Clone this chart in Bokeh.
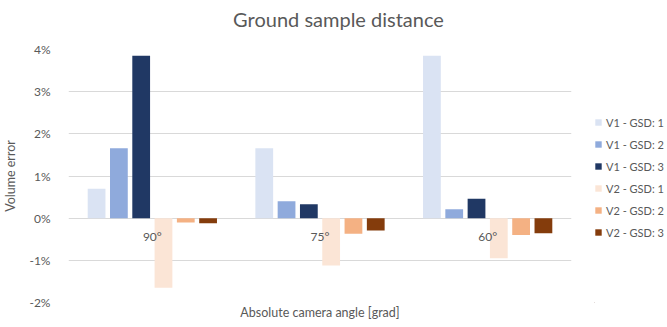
from bokeh.plotting import figure
from bokeh.models import Range1d, FixedTicker, PrintfTickFormatter, Legend, LegendItem, ColumnDataSource, LinearAxis
from bokeh.layouts import row, column
from bokeh.core.properties import value
from bokeh.embed import file_html
from bokeh.resources import INLINE

title_text = "Ground sample distance"
x_title = "Absolute camera angle [grad]"
y_title = "Volume error"
categories = ["90°", "75°", "60°"]
series_names = ["V1 - GSD: 1", "V1 - GSD: 2", "V1 - GSD: 3", "V2 - GSD: 1", "V2 - GSD: 2", "V2 - GSD: 3"]
v1_gsd1 = [0.70, 1.66, 3.85]
v1_gsd2 = [1.66, 0.40, 0.21]
v1_gsd3 = [3.85, 0.33, 0.46]
v2_gsd1 = [-1.65, -1.12, -0.95]
v2_gsd2 = [-0.10, -0.37, -0.40]
v2_gsd3 = [-0.12, -0.29, -0.36]
series_values = [v1_gsd1, v1_gsd2, v1_gsd3, v2_gsd1, v2_gsd2, v2_gsd3]
colors = ["#DAE3F3", "#8FAADC", "#203864", "#FBE5D6", "#F4B183", "#843C0C"]
y_ticks = [-2, -1, 0, 1, 2, 3, 4]

FONT = "Lato"
GRAY = "#595959"

# title strip
TH = 35
tf = figure(width=667, height=TH, output_backend="svg", toolbar_location=None,
            x_range=Range1d(0, 667), y_range=Range1d(0, TH), x_axis_type=None, y_axis_type=None,
            min_border=0, min_border_left=0, min_border_right=0, min_border_top=0, min_border_bottom=0)
tf.outline_line_color = None
tf.grid.visible = False
tsrc = ColumnDataSource(dict(x=[338], y=[TH - 18], t=[title_text]))
tf.text(x="x", y="y", text="t", source=tsrc, text_align="center", text_baseline="middle",
        text_font=value(FONT), text_font_size="20px", text_color=GRAY)

p = figure(width=594, height=327 - TH, output_backend="svg", toolbar_location=None,
           x_range=Range1d(0, 3), y_range=Range1d(-2, 4),
           x_axis_type=None,
           min_border_left=62, min_border_right=23, min_border_top=49 - TH, min_border_bottom=25)
p.outline_line_color = None
p.background_fill_color = "white"
p.border_fill_color = "white"

# bottom axis used only for its title
xax = LinearAxis(ticker=FixedTicker(ticks=[]), axis_line_color=None,
                 major_tick_line_color=None, minor_tick_line_color=None,
                 axis_label=x_title, axis_label_standoff=2,
                 axis_label_text_font=FONT, axis_label_text_font_size="12.5px",
                 axis_label_text_font_style="normal", axis_label_text_color=GRAY)
p.add_layout(xax, "below")

p.xgrid.visible = False
p.ygrid.grid_line_color = "#D9D9D9"
p.ygrid.grid_line_width = 1
p.yaxis.ticker = FixedTicker(ticks=y_ticks)
p.yaxis.formatter = PrintfTickFormatter(format="%d%%")
p.yaxis.axis_line_color = None
p.yaxis.major_tick_line_color = None
p.yaxis.minor_tick_line_color = None
p.yaxis.major_label_standoff = 12
p.yaxis.major_label_text_font = FONT
p.yaxis.major_label_text_font_size = "12px"
p.yaxis.major_label_text_color = GRAY
p.yaxis.axis_label = y_title
p.yaxis.axis_label_text_font = FONT
p.yaxis.axis_label_text_font_size = "12.5px"
p.yaxis.axis_label_text_font_style = "normal"
p.yaxis.axis_label_text_color = GRAY
p.yaxis.axis_label_standoff = 8

n = len(series_names)
step = 0.133
bar_w = 0.106
centers = [i + 0.5 for i in range(len(categories))]
for k, (name, vals, col) in enumerate(zip(series_names, series_values, colors)):
    off = (k - (n - 1) / 2) * step
    xs = [c + off for c in centers]
    p.vbar(x=xs, top=vals, bottom=0, width=bar_w, fill_color=col, line_color=None)

# category labels at the zero line
src = ColumnDataSource(dict(x=centers, y=[0] * len(centers), t=categories))
p.text(x="x", y="y", text="t", source=src, y_offset=18, text_align="center", text_baseline="middle",
       text_font=value(FONT), text_font_size="12px", text_color=GRAY)

# legend panel (swatch renderers sit outside the visible range; only their legend glyphs show)
lg = figure(width=73, height=327 - TH, output_backend="svg", toolbar_location=None,
            x_range=Range1d(0, 1), y_range=Range1d(0, 1), x_axis_type=None, y_axis_type=None,
            min_border=0, min_border_left=0, min_border_right=0, min_border_top=0, min_border_bottom=0)
lg.outline_line_color = None
lg.grid.visible = False
items = []
for name, col in zip(series_names, colors):
    r = lg.vbar(x=[-10], top=[-10], bottom=[-11], width=0.1, fill_color=col, line_color=None)
    items.append(LegendItem(label=name, renderers=[r]))
legend = Legend(items=items, location=(0, 63), orientation="vertical",
                glyph_width=8, glyph_height=8, label_standoff=4, label_height=14, spacing=8,
                padding=0, margin=0, border_line_color=None, background_fill_alpha=0,
                label_text_font=FONT, label_text_font_size="11px", label_text_color=GRAY)
lg.add_layout(legend)

layout = column(tf, row(p, lg, spacing=0), spacing=0)
open("out.html", "w").write(file_html(layout, INLINE))
